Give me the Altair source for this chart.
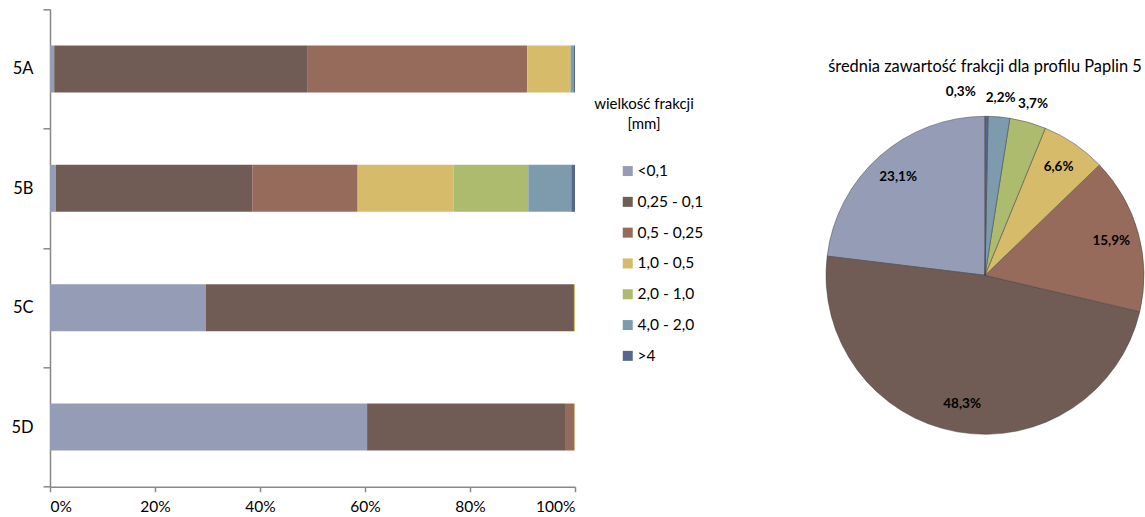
import altair as alt
import pandas as pd

# --- data -------------------------------------------------------------
samples = ["5A", "5B", "5C", "5D"]
fractions = ["<0,1", "0,25 - 0,1", "0,5 - 0,25", "1,0 - 0,5", "2,0 - 1,0", "4,0 - 2,0", ">4"]
colors = ["#959DB6", "#705C54", "#976B5C", "#D6BB6B", "#ADBB6F", "#7D9BAD", "#56668F"]

# share (%) of each fraction in samples 5A, 5B, 5C, 5D
share_lt_01 = [0.8, 1.1, 29.7, 60.4]
share_025_01 = [48.3, 37.5, 70.1, 37.7]
share_05_025 = [41.8, 20.0, 0.0, 1.8]
share_10_05 = [8.0, 18.3, 0.2, 0.1]
share_20_10 = [0.3, 14.2, 0.0, 0.0]
share_40_20 = [0.6, 8.2, 0.0, 0.0]
share_gt_4 = [0.2, 0.7, 0.0, 0.0]

# mean content of each fraction for the whole profile (%)
profile_mean = [23.1, 48.3, 15.9, 6.6, 3.7, 2.2, 0.3]

x_ticks = [0, 0.2, 0.4, 0.6, 0.8, 1.0]
legend_title = ["wielkość frakcji", "[mm]"]
pie_title = "średnia zawartość frakcji dla profilu Paplin 5"

FONT = "Lato"

# --- tables -----------------------------------------------------------
shares = [share_lt_01, share_025_01, share_05_025, share_10_05,
          share_20_10, share_40_20, share_gt_4]
rows = []
for i, (frac, vals) in enumerate(zip(fractions, shares)):
    for s, v in zip(samples, vals):
        rows.append({"sample": s, "fraction": frac, "idx": i, "share": v})
bar_df = pd.DataFrame(rows)

pie_df = pd.DataFrame({
    "fraction": fractions,
    "idx": list(range(len(fractions))),
    "value": profile_mean,
    "label": [f"{v:.1f}".replace(".", ",") + "%" for v in profile_mean],
})
title_df = pd.DataFrame({"t": [pie_title]})

# --- shared colour scale + legend -----------------------------------
legend = alt.Legend(
    orient="none", legendX=534, legendY=88, padding=0,
    title=legend_title, titleFont=FONT, titleFontSize=15, titleFontWeight="normal",
    titleColor="black", titleAnchor="middle", titleAlign="center",
    titleLineHeight=20, titlePadding=31,
    labelFont=FONT, labelFontSize=15.5, labelColor="black",
    symbolType="square", symbolSize=100, symbolStrokeWidth=0,
    symbolOffset=36, labelOffset=2, rowPadding=13.8,
)
color = alt.Color(
    "fraction:N",
    scale=alt.Scale(domain=fractions, range=colors),
    sort=fractions,
    legend=legend,
)

# --- stacked 100% bars ----------------------------------------------
bars = alt.Chart(bar_df).mark_bar(size=47).encode(
    x=alt.X(
        "share:Q", stack="normalize",
        scale=alt.Scale(domain=[0, 1], nice=False),
        axis=alt.Axis(values=x_ticks, format=".0%", title=None, grid=False,
                      tickSize=5, labelPadding=8, labelFontSize=15.5),
    ),
    y=alt.Y(
        "sample:N", sort=samples,
        scale=alt.Scale(paddingInner=0, paddingOuter=0),
        axis=alt.Axis(title=None, tickBand="extent", tickSize=7, labelPadding=10,
                      labelFontSize=16.5),
    ),
    color=color,
    order=alt.Order("idx:Q", sort="ascending"),
)

# --- pie of profile means ---------------------------------------------
pie_base = alt.Chart(pie_df).encode(
    theta=alt.Theta("value:Q", stack=True),
    order=alt.Order("idx:Q", sort="descending"),
    x=alt.value(935),
    y=alt.value(266),
)
slices = pie_base.mark_arc(radius=159, stroke="#404040", strokeWidth=0.5).encode(color=color)

label_style = dict(font=FONT, fontSize=13.5, fontWeight="bold", color="black")
inner_labels = pie_base.mark_text(radius=131, **label_style).encode(
    text=alt.condition("datum.value >= 5", alt.Text("label:N"), alt.value(""))
)
outer_labels = pie_base.mark_text(radius=178, **label_style).encode(
    text=alt.condition("datum.value >= 1 && datum.value < 5", alt.Text("label:N"), alt.value(""))
)
tiny_labels = pie_base.mark_text(radius=183, align="right", dx=-11, **label_style).encode(
    text=alt.condition("datum.value < 1", alt.Text("label:N"), alt.value(""))
)
pie_heading = alt.Chart(title_df).mark_text(font=FONT, fontSize=16.4, color="black").encode(
    x=alt.value(935), y=alt.value(57.4), text="t:N"
)

chart = alt.layer(
    bars, slices, inner_labels, outer_labels, tiny_labels, pie_heading
).properties(
    width=525,
    height=477.4,
    padding={"left": 50, "top": 9.3, "right": 570, "bottom": 30.3},
    autosize=alt.AutoSizeParams(type="none"),
).configure_view(
    stroke=None
).configure_axis(
    labelFont=FONT, labelFontSize=15, labelColor="black",
    domainColor="#888888", domainWidth=1.5, tickColor="#888888", tickWidth=1.5,
)

chart.save("out.html", embed_options={"renderer": "svg", "actions": False})
